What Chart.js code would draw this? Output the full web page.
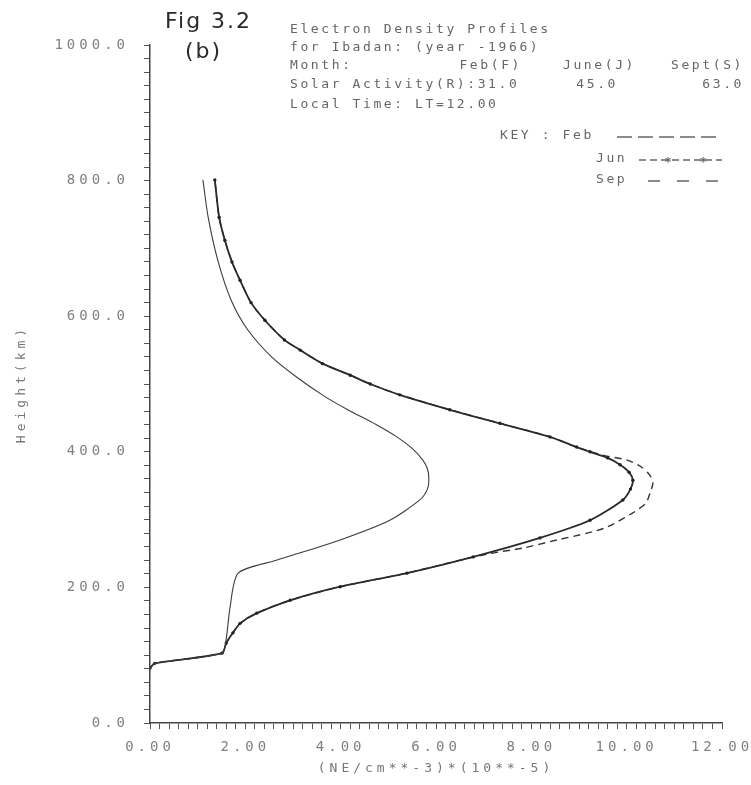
<!DOCTYPE html>
<html><head><meta charset="utf-8">
<script src="https://cdn.jsdelivr.net/npm/chart.js@4"></script>
<style>html,body{margin:0;padding:0;background:#fff}#wrap{width:751px;height:785px;position:relative}</style>
</head><body><div id="wrap"><canvas id="c" width="751" height="785"></canvas></div>
<script>
// Height (km) samples and electron density (NE/cm^-3 * 1e-5) for each month
const febHeights = [81, 88, 103, 125, 171, 221, 240, 270, 299, 329, 345, 361, 375, 388, 405, 422, 440, 462, 481, 510, 540, 580, 624, 683, 746, 801];
const febDensity = [0.00, 0.10, 1.51, 1.60, 1.68, 1.85, 2.65, 3.99, 5.03, 5.66, 5.82, 5.85, 5.82, 5.72, 5.50, 5.18, 4.75, 4.15, 3.68, 3.08, 2.55, 2.05, 1.70, 1.42, 1.22, 1.11];

const junHeights = [81, 88, 103, 118, 133, 147, 162, 181, 201, 221, 245, 273, 299, 329, 345, 358, 370, 381, 391, 400, 407, 422, 442, 462, 484, 500, 513, 530, 550, 565, 594, 620, 653, 680, 712, 746, 801];
const junDensity = [0.00, 0.10, 1.51, 1.60, 1.74, 1.89, 2.24, 2.94, 3.99, 5.39, 6.78, 8.18, 9.23, 9.92, 10.08, 10.13, 10.05, 9.86, 9.60, 9.23, 8.95, 8.39, 7.34, 6.29, 5.24, 4.62, 4.20, 3.62, 3.15, 2.82, 2.41, 2.12, 1.89, 1.72, 1.57, 1.45, 1.36];

const sepHeights = [81, 88, 103, 118, 133, 147, 162, 181, 201, 221, 235, 250, 258, 270, 280, 289, 310, 324, 339, 354, 366, 378, 388, 395, 407, 422, 442, 462, 484, 500, 513, 530, 550, 565, 594, 620, 653, 680, 712, 746, 801];
const sepDensity = [0.00, 0.10, 1.51, 1.60, 1.74, 1.89, 2.24, 2.94, 3.99, 5.39, 6.20, 7.13, 7.82, 8.54, 9.17, 9.59, 10.13, 10.40, 10.49, 10.55, 10.48, 10.30, 10.00, 9.50, 8.95, 8.39, 7.34, 6.29, 5.24, 4.62, 4.20, 3.62, 3.15, 2.82, 2.41, 2.12, 1.89, 1.72, 1.57, 1.45, 1.36];

const xMajorTicks = [0, 2, 4, 6, 8, 10, 12];
const yMajorTicks = [0, 200, 400, 600, 800, 1000];

const titleLines = [
  "Electron Density Profiles",
  "for Ibadan: (year -1966)",
  "Local Time: LT=12.00"
];
const monthLabels = ["Feb(F)", "June(J)", "Sept(S)"];
const solarValues = ["31.0", "45.0", "63.0"];
const keyLabels = ["Feb", "Jun", "Sep"];

const toPoints = (hs, xs) => xs.map((x, i) => ({x: x, y: hs[i]}));
const isMajor = (v, list) => list.some(m => Math.abs(v - m) < 1e-6);

const MONO = '"DejaVu Sans Mono"';

const spacingPlugin = {
  id: 'spacing',
  beforeLayout(chart) { chart.ctx.letterSpacing = '4px'; },
  beforeDraw(chart) { chart.ctx.letterSpacing = '4px'; }
};

const textPlugin = {
  id: 'texts',
  afterDraw(chart) {
    const ctx = chart.ctx;
    ctx.save();
    ctx.textBaseline = 'middle';
    ctx.textAlign = 'left';
    // figure label
    ctx.fillStyle = '#2a2a2a';
    ctx.letterSpacing = '2px';
    ctx.font = '22px "DejaVu Sans"';
    ctx.fillText('Fig 3.2', 165, 22);
    ctx.fillText('(b)', 185, 52);
    // text block
    ctx.fillStyle = '#666';
    ctx.font = '13px ' + MONO;
    ctx.letterSpacing = '2.6px';
    ctx.fillText(titleLines[0], 290, 30);
    ctx.fillText(titleLines[1], 290, 48);
    ctx.fillText('Month:', 290, 66);
    ctx.textAlign = 'right';
    ctx.fillText(monthLabels[0], 522, 66);
    ctx.fillText(monthLabels[1], 636, 66);
    ctx.fillText(monthLabels[2], 744, 66);
    ctx.textAlign = 'left';
    ctx.fillText('Solar Activity(R):' + solarValues[0], 290, 85);
    ctx.textAlign = 'right';
    ctx.fillText(solarValues[1], 618, 85);
    ctx.fillText(solarValues[2], 744, 85);
    ctx.textAlign = 'left';
    ctx.fillText(titleLines[2], 290, 105);
    ctx.fillText('KEY : ' + keyLabels[0], 500, 136);
    ctx.fillText(keyLabels[1], 596, 159);
    ctx.fillText(keyLabels[2], 596, 180);
    // key samples
    ctx.strokeStyle = '#666';
    ctx.lineWidth = 1.3;
    const seg = (x0, x1, y, dash) => {
      ctx.setLineDash(dash);
      ctx.beginPath(); ctx.moveTo(x0, y); ctx.lineTo(x1, y); ctx.stroke();
    };
    seg(617, 718, 137, [15, 6]);
    seg(639, 722, 160, [7, 4]);
    seg(648, 718, 181, [12, 17]);
    ctx.setLineDash([]);
    ctx.letterSpacing = '0px';
    ctx.textAlign = 'center';
    ctx.font = 'bold 12px ' + MONO;
    ctx.fillText('*', 668, 163);
    ctx.fillText('*', 703, 163);
    ctx.restore();
  }
};

new Chart(document.getElementById('c'), {
  type: 'scatter',
  data: {
    datasets: [
      {label: 'Feb', data: toPoints(febHeights, febDensity), showLine: true,
       borderColor: '#3c3c3c', borderWidth: 1.1, pointRadius: 0, tension: 0.25},
      {label: 'Jun', data: toPoints(junHeights, junDensity), showLine: true,
       borderColor: '#2a2a2a', borderWidth: 1.8, pointRadius: 1.7, pointBackgroundColor: '#222',
       pointBorderWidth: 0, tension: 0.25},
      {label: 'Sep', data: toPoints(sepHeights, sepDensity), showLine: true,
       borderColor: '#333', borderWidth: 1.4, borderDash: [7, 5], pointRadius: 0, tension: 0.25}
    ]
  },
  options: {
    responsive: false,
    animation: false,
    layout: {padding: {left: 0, top: 45, right: 29, bottom: 0}},
    plugins: {legend: {display: false}, tooltip: {enabled: false}},
    scales: {
      x: {
        type: 'linear', min: 0, max: 12,
        afterFit: s => { s.height = 62; s.paddingLeft = 0; s.paddingRight = 0; },
        border: {display: true, color: '#444', width: 1.5},
        grid: {drawOnChartArea: false, drawTicks: true, tickLength: 6, color: '#555'},
        ticks: {
          stepSize: 0.2, autoSkip: false, maxTicksLimit: 200, maxRotation: 0, padding: 10,
          color: '#808080', font: {family: 'DejaVu Sans Mono', size: 14},
          callback: v => isMajor(v, xMajorTicks) ? v.toFixed(2) : ''
        },
        title: {display: true, text: '(NE/cm**-3)*(10**-5)', color: '#777',
                font: {family: 'DejaVu Sans Mono', size: 13}, padding: {top: 0, bottom: 9}}
      },
      y: {
        type: 'linear', min: 0, max: 1000,
        afterFit: s => { s.width = 150; s.paddingTop = 0; s.paddingBottom = 0; },
        border: {display: true, color: '#444', width: 1.5},
        grid: {drawOnChartArea: false, drawTicks: true, tickLength: 6, color: '#555'},
        ticks: {
          stepSize: 20, autoSkip: false, maxTicksLimit: 200, padding: 15,
          color: '#808080', font: {family: 'DejaVu Sans Mono', size: 14},
          callback: v => isMajor(v, yMajorTicks) ? v.toFixed(1) : ''
        },
        title: {display: true, text: 'Height(km)', color: '#777',
                font: {family: 'DejaVu Sans Mono', size: 13}, padding: {top: 14, bottom: 0}}
      }
    }
  },
  plugins: [spacingPlugin, textPlugin]
});
</script>
</body></html>
